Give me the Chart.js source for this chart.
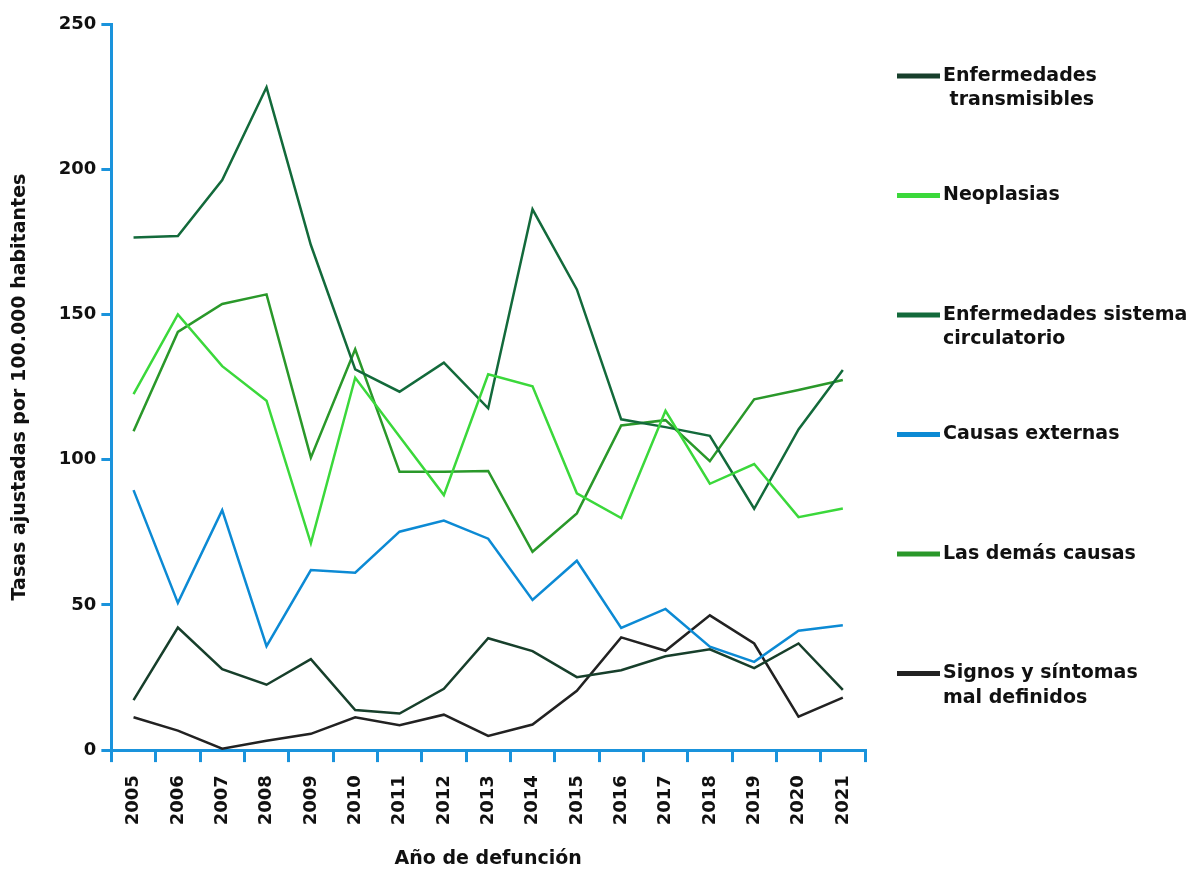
<!DOCTYPE html>
<html>
<head>
<meta charset="utf-8">
<script src="https://cdn.jsdelivr.net/npm/chart.js@4"></script>
<style>
  body { margin: 0; background: #fff; }
  #wrap { width: 1197px; height: 870px; }
</style>
</head>
<body>
<div id="wrap"><canvas id="line-chart"></canvas></div>
<script>
// años de defunción
var years = ['2005', '2006', '2007', '2008', '2009', '2010', '2011', '2012', '2013',
             '2014', '2015', '2016', '2017', '2018', '2019', '2020', '2021'];

// tasas ajustadas por 100.000 habitantes
var transmisibles = [17.2, 42.2, 27.9, 22.5, 31.3, 13.8, 12.6, 21.1, 38.5, 34.1, 25.1, 27.5, 32.3, 34.7, 28.2, 36.7, 20.7];
var neoplasias    = [122.6, 150.0, 132.2, 120.3, 71.2, 128.2, 108.0, 87.8, 129.4, 125.3, 88.4, 79.9, 116.8, 91.7, 98.5, 80.2, 83.2];
var circulatorio  = [176.5, 177.0, 196.3, 228.2, 173.9, 131.1, 123.4, 133.4, 117.7, 186.2, 158.6, 113.9, 111.2, 108.2, 83.1, 110.4, 130.9];
var externas      = [89.5, 50.7, 82.6, 35.8, 62.0, 61.1, 75.2, 79.0, 72.8, 51.7, 65.2, 42.1, 48.6, 35.6, 30.4, 41.1, 43.0];
var demasCausas   = [109.8, 144.0, 153.6, 156.9, 100.7, 138.0, 95.8, 95.8, 96.1, 68.3, 81.5, 111.8, 113.6, 99.5, 120.8, 124.0, 127.4];
var signos        = [11.3, 6.7, 0.5, 3.2, 5.6, 11.3, 8.6, 12.2, 4.9, 8.8, 20.4, 38.8, 34.2, 46.4, 36.7, 11.5, 18.1];

var seriesNames = ['Enfermedades transmisibles', 'Neoplasias', 'Enfermedades sistema circulatorio',
                   'Causas externas', 'Las demás causas', 'Signos y síntomas mal definidos'];
var legendLines = [['Enfermedades', ' transmisibles'], ['Neoplasias'], ['Enfermedades sistema', 'circulatorio'],
                   ['Causas externas'], ['Las demás causas'], ['Signos y síntomas', 'mal definidos']];
var seriesValues = [transmisibles, neoplasias, circulatorio, externas, demasCausas, signos];
var seriesColors = ['#173f2b', '#3bd83b', '#136a3b', '#0c8ad4', '#2a982a', '#222222'];

var axisBlue = '#1a93dc';
var FONT = '"DejaVu Sans", sans-serif';

// legend drawn on the right side, one block per series
var sideLegend = {
  id: 'sideLegend',
  afterDraw: function(chart) {
    var ctx = chart.ctx;
    var x0 = chart.chartArea.right + 32;
    var top = 76, step = 119.5, lineH = 24.5;
    ctx.save();
    ctx.font = 'bold 19px ' + FONT;
    ctx.textBaseline = 'middle';
    chart.data.datasets.forEach(function(ds, i) {
      var y = top + i * step;
      ctx.fillStyle = ds.borderColor;
      ctx.fillRect(x0, y - 2.5, 43, 5);
      ctx.fillStyle = '#111';
      legendLines[i].forEach(function(line, j) {
        ctx.fillText(line, x0 + 46, y + j * lineH);
      });
    });
    ctx.restore();
  }
};

new Chart(document.getElementById('line-chart'), {
  type: 'line',
  data: {
    labels: years,
    datasets: seriesValues.map(function(vals, i) {
      return {
        label: seriesNames[i],
        data: vals,
        borderColor: seriesColors[i],
        backgroundColor: seriesColors[i],
        borderWidth: 2.5,
        pointRadius: 0,
        tension: 0,
        fill: false
      };
    })
  },
  options: {
    responsive: true,
    maintainAspectRatio: false,
    animation: false,
    layout: { padding: { top: 24, right: 332, left: 5, bottom: 0 } },
    plugins: { legend: { display: false }, tooltip: { enabled: false } },
    scales: {
      x: {
        offset: true,
        grid: { offset: true, drawOnChartArea: false, drawTicks: true, tickLength: 12, tickColor: axisBlue, lineWidth: 3 },
        border: { color: axisBlue, width: 3 },
        ticks: { color: '#111', minRotation: 90, maxRotation: 90, padding: 13, font: { family: FONT, size: 18, weight: 'bold' } },
        title: { display: true, text: 'Año de defunción', color: '#111', padding: { top: 9, bottom: 0 },
                 font: { family: FONT, size: 19, weight: 'bold' } }
      },
      y: {
        min: 0,
        max: 250,
        grid: { drawOnChartArea: false, drawTicks: true, tickLength: 10, tickColor: axisBlue, lineWidth: 3 },
        border: { color: axisBlue, width: 3 },
        ticks: { stepSize: 50, color: '#111', padding: 5, font: { family: FONT, size: 18, weight: 'bold' } },
        title: { display: true, text: 'Tasas ajustadas por 100.000 habitantes', color: '#111', padding: { top: 4, bottom: 22 },
                 font: { family: FONT, size: 19, weight: 'bold' } }
      }
    }
  },
  plugins: [sideLegend]
});
</script>
</body>
</html>
